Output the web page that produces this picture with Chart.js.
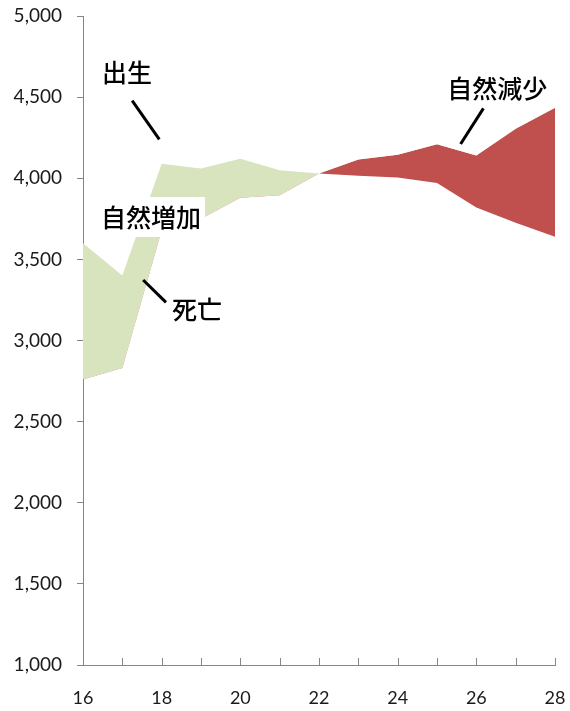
<!DOCTYPE html>
<html lang="ja">
<head>
<meta charset="utf-8">
<script src="https://cdn.jsdelivr.net/npm/chart.js"></script>
<style>
  html, body { margin: 0; padding: 0; background: #fff; }
  #wrap { width: 570px; height: 711px; position: relative; }
</style>
</head>
<body>
<div id="wrap"><canvas id="grafico"></canvas></div>
<script>
// datos
const anios = [16, 17, 18, 19, 20, 21, 22, 23, 24, 25, 26, 27, 28];
const nacimientos = [3600, 3400, 4090, 4060, 4120, 4050, 4030, 4015, 4005, 3970, 3820, 3725, 3640];
const defunciones = [2760, 2830, 3680, 3750, 3880, 3895, 4030, 4115, 4145, 4210, 4140, 4305, 4435];
const ticksY = [1000, 1500, 2000, 2500, 3000, 3500, 4000, 4500, 5000];

// textos con su punto (en valores de datos) y su línea guía
const etiquetas = [
    { texto: '出生', x: 17.12, y: 4650, linea: [17.25, 4478, 17.94, 4240] },
    { texto: '死亡', x: 18.9, y: 3188, linea: [17.53, 3373, 18.11, 3235] },
    { texto: '自然減少', x: 26.53, y: 4556, linea: [26.18, 4431, 25.6, 4211] },
    { texto: '自然増加', x: 17.73, y: 3761, fondo: true }
];

const gris = '#868686';

const pluginEtiquetas = {
    id: 'etiquetas',
    afterDatasetsDraw(chart) {
        const ctx = chart.ctx;
        const sx = chart.scales.x, sy = chart.scales.y;
        ctx.save();
        // marcas del eje x hacia dentro
        ctx.strokeStyle = gris;
        ctx.lineWidth = 1;
        anios.forEach(a => {
            const px = Math.round(sx.getPixelForValue(a)) + 0.5;
            ctx.beginPath();
            ctx.moveTo(px, sy.bottom);
            ctx.lineTo(px, sy.bottom - 7);
            ctx.stroke();
        });
        ctx.font = '500 25px "Noto Sans CJK JP"';
        ctx.textAlign = 'center';
        ctx.textBaseline = 'middle';
        etiquetas.forEach(e => {
            const px = sx.getPixelForValue(e.x);
            const py = sy.getPixelForValue(e.y);
            if (e.fondo) {
                const w = ctx.measureText(e.texto).width;
                ctx.fillStyle = '#fff';
                ctx.fillRect(px - w / 2 - 4, py - 20, w + 8, 40);
            }
            ctx.fillStyle = '#000';
            ctx.fillText(e.texto, px, py);
            if (e.linea) {
                ctx.strokeStyle = '#000';
                ctx.lineWidth = 3;
                ctx.beginPath();
                ctx.moveTo(sx.getPixelForValue(e.linea[0]), sy.getPixelForValue(e.linea[1]));
                ctx.lineTo(sx.getPixelForValue(e.linea[2]), sy.getPixelForValue(e.linea[3]));
                ctx.stroke();
            }
        });
        ctx.restore();
    }
};

const config = {
    type: 'line',
    data: {
        datasets: [{
            label: '出生',
            data: anios.map((a, i) => ({ x: a, y: nacimientos[i] })),
            borderColor: 'rgba(0,0,0,0)',
            borderWidth: 0,
            pointRadius: 0,
            tension: 0,
            fill: { target: 1, above: '#d7e4bd', below: '#c0504d' }
        }, {
            label: '死亡',
            data: anios.map((a, i) => ({ x: a, y: defunciones[i] })),
            borderColor: 'rgba(0,0,0,0)',
            borderWidth: 0,
            pointRadius: 0,
            tension: 0,
            fill: false
        }]
    },
    options: {
        responsive: true,
        maintainAspectRatio: false,
        animation: false,
        layout: { padding: { top: 16, right: 15, left: 0, bottom: 0 } },
        plugins: {
            legend: { display: false },
            tooltip: { enabled: false }
        },
        scales: {
            x: {
                type: 'linear',
                min: 16,
                max: 28,
                afterFit(scale) {
                    scale.height = 46;
                    scale.paddingLeft = 0;
                    scale.paddingRight = 0;
                },
                border: { color: gris, width: 1 },
                grid: { display: true, drawOnChartArea: false, drawTicks: false },
                ticks: {
                    stepSize: 1,
                    autoSkip: false,
                    maxRotation: 0,
                    padding: 22,
                    color: '#1a1a1a',
                    font: { family: 'Lato', size: 18 },
                    callback: v => (v % 2 === 0 ? String(v) : '')
                }
            },
            y: {
                min: 1000,
                max: 5000,
                afterFit(scale) {
                    scale.width = 83;
                    scale.paddingTop = 0;
                    scale.paddingBottom = 0;
                },
                afterBuildTicks(scale) { scale.ticks = ticksY.map(v => ({ value: v })); },
                border: { color: gris, width: 1 },
                grid: { drawOnChartArea: false, tickLength: 6, color: gris },
                ticks: {
                    padding: 15,
                    color: '#1a1a1a',
                    font: { family: 'Lato', size: 19 },
                    callback: v => v.toLocaleString('en-US')
                }
            }
        }
    },
    plugins: [pluginEtiquetas]
};

const graficoPoblacion = new Chart(document.getElementById('grafico'), config);
</script>
</body>
</html>
